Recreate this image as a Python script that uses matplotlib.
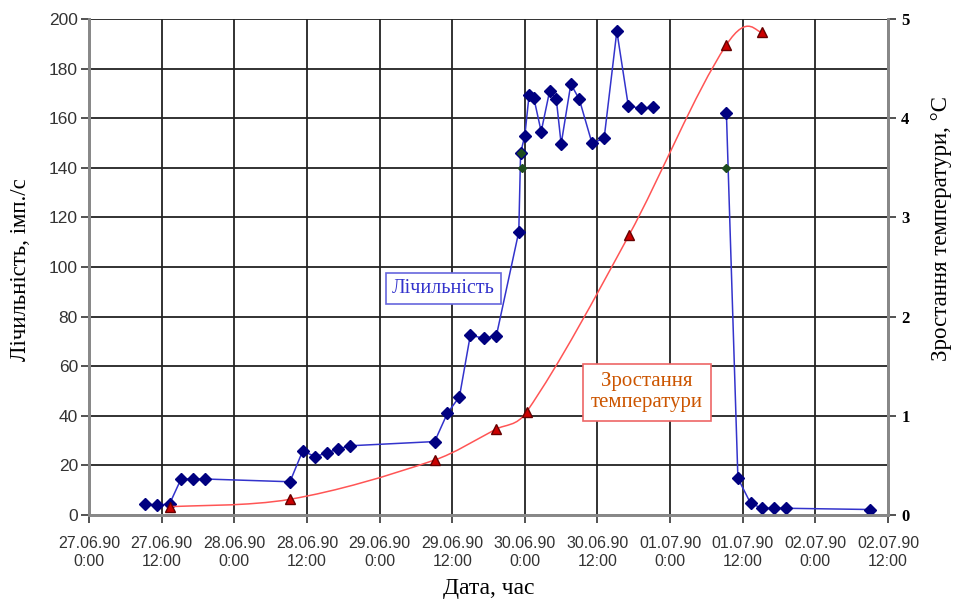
import numpy as np
import matplotlib
matplotlib.use("Agg")
import matplotlib.pyplot as plt
from matplotlib.path import Path
from matplotlib.patches import PathPatch

# hours since 27.06.90 0:00
count_hours = [9.3, 11.2, 13.3, 15.2, 17.2, 19.2, 33.2, 35.3, 37.4, 39.3, 41.2, 43.1,
               57.1, 59.2, 61.2, 63.0, 65.2, 67.3, 71.0, 71.3, 72.0, 72.7, 73.5, 74.7,
               76.1, 77.2, 78.0, 79.6, 81.0, 83.1, 85.1, 87.2, 89.1, 91.2, 93.1, np.nan,
               105.3, 107.2, 109.3, 111.2, 113.2, 115.2, 129.1]
count_vals = [4.4, 4.0, 4.4, 14.5, 14.5, 14.5, 13.4, 25.8, 23.5, 25.1, 26.6, 27.9,
              29.6, 41.0, 47.7, 72.6, 71.2, 72.3, 114.2, 146, 153, 169.3, 168, 154.6,
              171, 167.6, 149.6, 173.8, 167.6, 149.9, 151.9, 195.1, 164.9, 164, 164.4, np.nan,
              162, 14.8, 4.7, 2.7, 2.7, 2.7, 2.2]

extra_hours = [71.3, 71.6, 105.3]
extra_vals = [146, 140, 140]

temp_hours = [13.3, 33.2, 57.1, 67.2, 72.3, 89.2, 105.3, 111.2]
temp_vals = [0.084, 0.158, 0.554, 0.864, 1.04, 2.82, 4.74, 4.87]

tick_labels = ["27.06.90\n0:00", "27.06.90\n12:00", "28.06.90\n0:00", "28.06.90\n12:00",
               "29.06.90\n0:00", "29.06.90\n12:00", "30.06.90\n0:00", "30.06.90\n12:00",
               "01.07.90\n0:00", "01.07.90\n12:00", "02.07.90\n0:00", "02.07.90\n12:00"]

serif = ["Liberation Serif", "DejaVu Serif"]
sans = ["Liberation Sans", "DejaVu Sans"]

fig = plt.figure(figsize=(9.56, 6.04), dpi=100)
ax = fig.add_axes([0.0931, 0.1474, 0.8358, 0.8211])

ax.set_xlim(0, 132)
ax.set_ylim(0, 200)
ax.set_xticks(np.arange(0, 133, 12))
ax.set_xticklabels(tick_labels, fontfamily=sans, fontsize=11.5, color="#333333", linespacing=1.25)
ax.set_yticks(np.arange(0, 201, 20))
ax.set_yticklabels([str(v) for v in range(0, 201, 20)], fontfamily=sans, fontsize=12.5, color="#333333")
ax.grid(True, color="#222222", lw=1.3)
ax.tick_params(axis="both", direction="out", length=6, width=1.3, color="#444444")
ax.tick_params(axis="x", pad=9)
ax.tick_params(axis="y", pad=2)
for s in ["left", "bottom", "right"]:
    ax.spines[s].set_color("#888888")
    ax.spines[s].set_linewidth(2)
ax.spines["top"].set_visible(False)

ax.plot(count_hours, count_vals, color="#3333cc", lw=1.1, marker="D", markersize=6.5,
        markerfacecolor="#000080", markeredgecolor="#000080", zorder=4)
ax.plot(extra_hours, extra_vals, ls="none", marker="D", markersize=4,
        markerfacecolor="#1f4d1f", markeredgecolor="#1f4d1f", zorder=5)

ax.set_ylabel("Лічильність, імп./с", fontfamily=serif, fontsize=16.5)
ax.yaxis.set_label_coords(-0.073, 0.494)
ax.set_xlabel("Дата, час", fontfamily=serif, fontsize=17)
ax.xaxis.set_label_coords(0.5, -0.128)

ax2 = ax.twinx()
ax2.set_ylim(0, 5)
ax2.set_yticks(range(0, 6))
ax2.set_yticklabels([str(v) for v in range(0, 6)], fontfamily=serif, fontsize=12, fontweight="bold")
ax2.tick_params(axis="y", direction="out", length=6, width=1.3, color="#444444")
for s in ["left", "bottom", "right"]:
    ax2.spines[s].set_color("#888888")
    ax2.spines[s].set_linewidth(2)
ax2.spines["top"].set_visible(False)
ax2.set_ylabel("Зростання температури, °C", fontfamily=serif, fontsize=16.5)
ax2.yaxis.set_label_coords(1.054, 0.577)

# smoothed line through the temperature points (cubic Bezier segments)
pts = np.column_stack([temp_hours, temp_vals])
n = len(pts)
verts = [pts[0]]
codes = [Path.MOVETO]
for i in range(n - 1):
    p1, p2 = pts[i], pts[i + 1]
    h = p2[0] - p1[0]
    if i == 0:
        c1 = p1 + (p2 - p1) / 6
    elif i == n - 2:
        c1 = p1 + (p2 - pts[i - 1]) / 6  # Excel-like overshoot at the end
    else:
        m = (pts[i + 1][1] - pts[i - 1][1]) / (pts[i + 1][0] - pts[i - 1][0])
        c1 = p1 + np.array([h / 3, m * h / 3])
    if i + 2 >= n:
        c2 = p2 - (p2 - p1) / 6
    else:
        m = (pts[i + 2][1] - pts[i][1]) / (pts[i + 2][0] - pts[i][0])
        c2 = p2 - np.array([h / 3, m * h / 3])
    verts += [c1, c2, p2]
    codes += [Path.CURVE4] * 3
ax2.add_patch(PathPatch(Path(verts, codes), fill=False, edgecolor="#ff5555", lw=1.1, zorder=3))
ax2.plot(temp_hours, temp_vals, ls="none", marker="^", markersize=7,
         markerfacecolor="#cc0000", markeredgecolor="#660000", zorder=4)

ax.text(58.5, 91.5, "Лічильність", fontfamily=serif, fontsize=14.5, color="#3333cc",
        ha="center", va="center", zorder=6,
        bbox=dict(boxstyle="square,pad=0.3", facecolor="white", edgecolor="#6666dd", lw=1.2))
ax.text(92.2, 49.5, "Зростання\nтемператури", fontfamily=serif, fontsize=15, color="#cc5500",
        ha="center", va="center", linespacing=1.15, zorder=6,
        bbox=dict(boxstyle="square,pad=0.4", facecolor="white", edgecolor="#ee6666", lw=1.2))

fig.savefig("out.png", dpi=100)
